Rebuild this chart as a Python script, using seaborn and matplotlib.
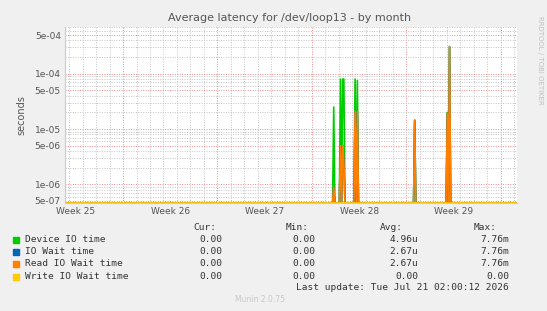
import numpy as np
import pandas as pd
import seaborn as sns
import matplotlib.pyplot as plt
from matplotlib.ticker import FixedLocator, NullFormatter

# time axis in days since Mon 22 Jun 2026 00:00
x_start, x_end = -4.3, 29.2
week_lines = [0, 7, 14, 21, 28]
week_label_pos = [-3.5, 3.5, 10.5, 17.5, 24.5]
week_labels = ["Week 25", "Week 26", "Week 27", "Week 28", "Week 29"]

# spikes (everything else is 0)
spike_days = [15.63, 16.13, 16.26, 16.37, 17.19, 17.37, 21.65, 24.02, 24.17]
device_io = [2.5e-05, 8e-05, 8e-05, 8e-05, 8e-05, 7.5e-05, 1.4e-05, 2e-05, 3.0e-04]
io_wait = [9e-07, 5e-06, 5e-06, 2.6e-06, 2.1e-05, 2.1e-05, 1.45e-05, 1.9e-05, 3.1e-04]
read_wait = [9e-07, 5e-06, 5e-06, 2.6e-06, 2.1e-05, 2.1e-05, 1.45e-05, 1.9e-05, 3.1e-04]
write_wait = [0, 0, 0, 0, 0, 0, 0, 0, 0]

series_names = ["Device IO time", "IO Wait time", "Read IO Wait time", "Write IO Wait time"]
series_vals = [device_io, io_wait, read_wait, write_wait]
colors = ["#00CC00", "#0066B3", "#FF8000", "#FFCC00"]
cur = ["0.00", "0.00", "0.00", "0.00"]
mins = ["0.00", "0.00", "0.00", "0.00"]
avgs = ["4.96u", "2.67u", "2.67u", "0.00"]
maxs = ["7.76m", "7.76m", "7.76m", "0.00"]

ytick_vals = [5e-07, 1e-06, 5e-06, 1e-05, 5e-05, 1e-04, 5e-04]
y_bottom, y_top = 4.6e-07, 7e-04

# 2 hour samples, like the munin month rra
step = 1 / 12
grid = np.arange(x_start, x_end + step, step)

frames = []
for name, vals in zip(series_names, series_vals):
    v = np.zeros(len(grid))
    for d, val in zip(spike_days, vals):
        v[int(round((d - x_start) / step))] = val
    frames.append(pd.DataFrame({"day": grid, "value": np.clip(v, y_bottom, None), "series": name}))
df = pd.concat(frames)

sns.set_style("white")
plt.rcParams["font.family"] = ["DejaVu Sans"]

W, H = 547, 311
fig = plt.figure(figsize=(W / 100, H / 100), dpi=100, facecolor="#F0F0F0")
ax = fig.add_axes([65 / W, 1 - 203 / H, 452 / W, 176 / H])
ax.set_facecolor("white")
ax.set_yscale("log")

sns.lineplot(data=df, x="day", y="value", hue="series", hue_order=series_names,
             palette=colors, estimator=None, sort=False, linewidth=1.2,
             legend=False, ax=ax)

ax.set_xlim(x_start, x_end)
ax.set_ylim(y_bottom, y_top)
ax.set_xlabel("")

# grid
ax.xaxis.set_major_locator(FixedLocator(week_lines))
ax.xaxis.set_minor_locator(FixedLocator(np.arange(-4, 30, 1)))
ax.xaxis.set_major_formatter(NullFormatter())
ax.yaxis.set_major_locator(FixedLocator(ytick_vals))
minor_y = [m * 10.0 ** e for e in range(-7, -3) for m in range(2, 10) if m != 5]
ax.yaxis.set_minor_locator(FixedLocator(minor_y))
ax.yaxis.set_minor_formatter(NullFormatter())
ax.set_yticklabels([f"{v:.0e}" for v in ytick_vals])

ax.grid(which="minor", color="#C4C4C4", linestyle=(0, (1, 1.5)), linewidth=0.7)
ax.grid(which="major", color="#E89090", linestyle=(0, (1, 1.5)), linewidth=0.7)
ax.set_axisbelow(True)
ax.tick_params(which="both", length=0, labelsize=6.5, colors="#555555", pad=3)
ax.tick_params(axis="x", which="major", length=2, color="#E89090")

for s in ["top", "right"]:
    ax.spines[s].set_visible(False)
for s in ["left", "bottom"]:
    ax.spines[s].set_color("#C8C8E8")
    ax.spines[s].set_linewidth(0.8)

for pos, lab in zip(week_label_pos, week_labels):
    ax.text(pos, -0.025, lab, transform=ax.get_xaxis_transform(), ha="center",
            va="top", fontsize=6.5, color="#555555")

ax.set_ylabel("seconds", fontsize=7, color="#555555", labelpad=6)

def ftext(x, y, s, **kw):
    fig.text(x / W, 1 - y / H, s, **kw)

ftext(290, 18, "Average latency for /dev/loop13 - by month", ha="center", va="center",
      fontsize=8, color="#555555")
ftext(540, 60, "RRDTOOL / TOBI OETIKER", ha="center", va="center", rotation=270,
      fontsize=5, color="#C0C0C0")

mono = dict(family="DejaVu Sans Mono", fontsize=6.8, color="#333333", va="center")
ftext(216, 227, "Cur:", ha="right", **mono)
ftext(309, 227, "Min:", ha="right", **mono)
ftext(403, 227, "Avg:", ha="right", **mono)
ftext(497, 227, "Max:", ha="right", **mono)
for i, name in enumerate(series_names):
    y = 239.5 + i * 12.2
    fig.patches.append(plt.Rectangle((13 / W, 1 - (y + 3.5) / H), 6 / W, 6 / H,
                                     transform=fig.transFigure, color=colors[i]))
    ftext(25, y, name, ha="left", **mono)
    ftext(222, y, cur[i], ha="right", **mono)
    ftext(315, y, mins[i], ha="right", **mono)
    ftext(418, y, avgs[i], ha="right", **mono)
    ftext(509, y, maxs[i], ha="right", **mono)
ftext(509, 288, "Last update: Tue Jul 21 02:00:12 2026", ha="right", **mono)
ftext(260, 300, "Munin 2.0.75", ha="center", va="center", fontsize=5.5, color="#C8C8C8")

fig.savefig("out.png", dpi=100, facecolor=fig.get_facecolor())
